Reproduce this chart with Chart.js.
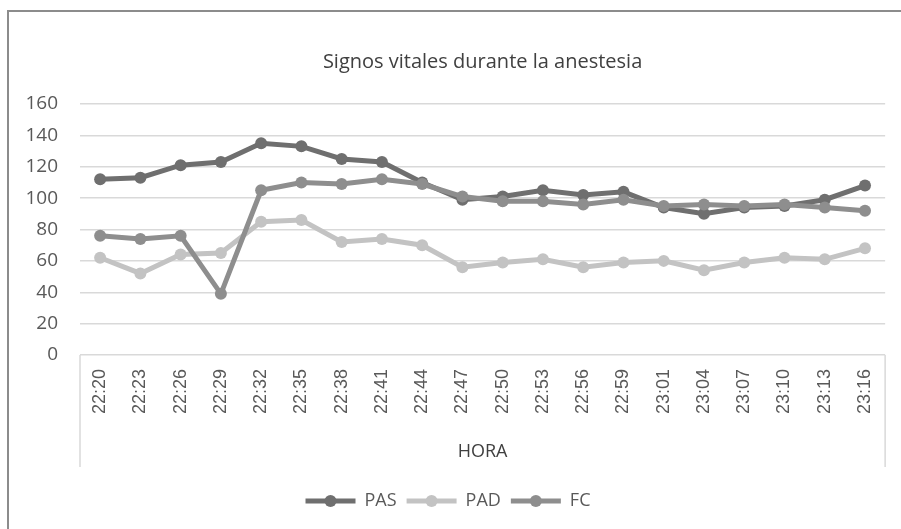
<!DOCTYPE html>
<html>
<head>
<meta charset="utf-8">
<script src="https://cdn.jsdelivr.net/npm/chart.js@4"></script>
<style>
  html, body { margin: 0; padding: 0; background: #fff; }
  #wrap { position: relative; width: 901px; height: 529px; }
</style>
</head>
<body>
<div id="wrap"><canvas id="grafico" width="901" height="529"></canvas></div>
<script>
// horas del registro (eje X)
const horas = ["22:20", "22:23", "22:26", "22:29", "22:32", "22:35", "22:38", "22:41", "22:44", "22:47",
  "22:50", "22:53", "22:56", "22:59", "23:01", "23:04", "23:07", "23:10", "23:13", "23:16"];

// valores
const pas = [112, 113, 121, 123, 135, 133, 125, 123, 110, 99, 101, 105, 102, 104, 94, 90, 94, 95, 99, 108];
const pad = [62, 52, 64, 65, 85, 86, 72, 74, 70, 56, 59, 61, 56, 59, 60, 54, 59, 62, 61, 68];
const fc = [76, 74, 76, 39, 105, 110, 109, 112, 109, 101, 98, 98, 96, 99, 95, 96, 95, 96, 94, 92];

const ticksY = [0, 20, 40, 60, 80, 100, 120, 140, 160];

const colores = { pas: "#6f6f6f", pad: "#c3c3c3", fc: "#8e8e8e" };
const texto = "#595959";

function serie(label, data, color, orden) {
  return {
    label: label,
    data: data,
    borderColor: color,
    backgroundColor: color,
    borderWidth: 5,
    pointRadius: 6,
    pointHoverRadius: 6,
    pointBackgroundColor: color,
    pointBorderColor: color,
    pointBorderWidth: 0,
    tension: 0,
    order: orden
  };
}

// marco exterior y caja de etiquetas del eje x
const marco = {
  id: "marco",
  beforeDraw(chart) {
    const ctx = chart.ctx;
    const a = chart.chartArea;
    ctx.save();
    ctx.strokeStyle = "#8c8c8c";
    ctx.lineWidth = 2;
    ctx.beginPath();
    ctx.moveTo(8, 1000);
    ctx.lineTo(8, 11);
    ctx.lineTo(1000, 11);
    ctx.stroke();
    ctx.strokeStyle = "#d9d9d9";
    ctx.lineWidth = 1.5;
    ctx.beginPath();
    ctx.moveTo(a.left, a.bottom);
    ctx.lineTo(a.left, a.bottom + 112);
    ctx.moveTo(a.right, a.bottom);
    ctx.lineTo(a.right, a.bottom + 112);
    ctx.stroke();
    ctx.restore();
  },
  afterDraw(chart) {
    // circulo en el centro de cada muestra de la leyenda
    const lg = chart.legend;
    if (!lg || !lg.legendHitBoxes) return;
    const ctx = chart.ctx;
    const fs = 18;
    ctx.save();
    lg.legendHitBoxes.forEach((hb, i) => {
      const item = lg.legendItems[i];
      ctx.fillStyle = item.fillStyle;
      ctx.beginPath();
      ctx.arc(hb.left + 25, hb.top + fs / 2, 6, 0, Math.PI * 2);
      ctx.fill();
    });
    ctx.restore();
  }
};

const config = {
  type: "line",
  data: {
    labels: horas,
    datasets: [
      serie("PAS", pas, colores.pas, 3),
      serie("PAD", pad, colores.pad, 2),
      serie("FC", fc, colores.fc, 1)
    ]
  },
  options: {
    responsive: false,
    animation: false,
    layout: { padding: { top: 0, left: 10, right: 15, bottom: 9 } },
    plugins: {
      title: {
        display: true,
        fullSize: false,
        text: "Signos vitales durante la anestesia",
        color: "#404040",
        font: { family: "Open Sans", size: 20, weight: "normal" },
        padding: { top: 50, bottom: 30 }
      },
      legend: {
        position: "bottom",
        labels: {
          color: texto,
          font: { family: "Open Sans", size: 18 },
          boxWidth: 50,
          boxHeight: 5,
          padding: 10,
          sort: (a, b) => a.datasetIndex - b.datasetIndex,
          generateLabels(chart) {
            return chart.data.datasets.map((ds, i) => ({
              text: ds.label,
              fillStyle: ds.borderColor,
              strokeStyle: ds.borderColor,
              lineWidth: 0,
              datasetIndex: i,
              fontColor: texto,
              hidden: false
            }));
          }
        }
      },
      tooltip: { enabled: false }
    },
    scales: {
      x: {
        offset: true,
        grid: { display: false, drawTicks: false, offset: true },
        border: { display: false },
        ticks: {
          color: texto,
          font: { family: "Liberation Sans", size: 18 },
          minRotation: 90,
          maxRotation: 90,
          padding: 14,
          autoSkip: false
        },
        title: {
          display: true,
          text: "HORA",
          color: "#404040",
          font: { family: "Open Sans", size: 18 },
          padding: { top: 4, bottom: 19 }
        },
        afterFit(s) { s.height = 127; }
      },
      y: {
        min: 0,
        max: 160,
        afterBuildTicks(s) { s.ticks = ticksY.map(v => ({ value: v })); },
        grid: { color: "#d9d9d9", lineWidth: 1.5, drawTicks: false },
        border: { display: false },
        ticks: {
          color: texto,
          font: { family: "Open Sans", size: 19 },
          padding: 22
        },
        afterFit(s) { s.width = 70; }
      }
    }
  },
  plugins: [marco]
};

const grafico = new Chart(document.getElementById("grafico"), config);
</script>
</body>
</html>
